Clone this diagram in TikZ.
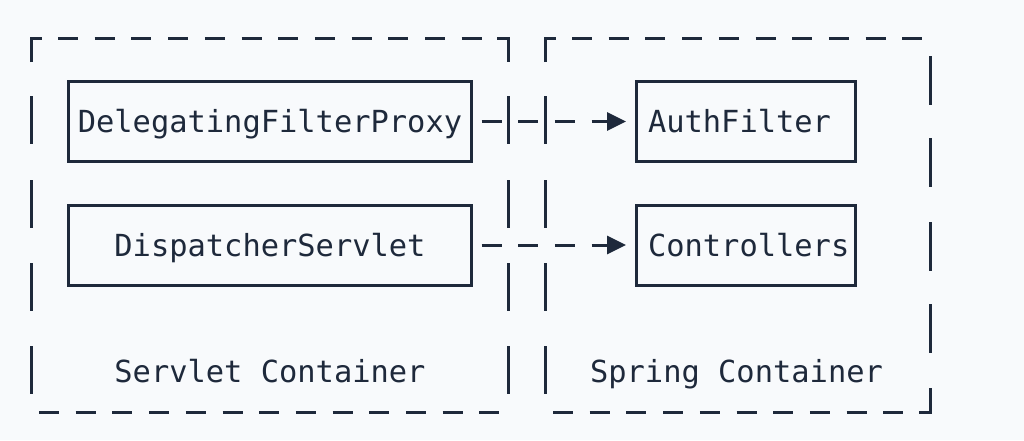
\documentclass[tikz,border=0pt]{standalone}
\usepackage{fontspec}
\setmonofont{DejaVu Sans Mono}
\usetikzlibrary{arrows.meta}
\definecolor{ink}{HTML}{1E293B}
\definecolor{bg}{HTML}{F8FAFC}
\tikzset{
  dl/.style={draw=ink, line width=3pt},
  box/.style={draw=ink, line width=3pt, minimum height=80pt, inner ysep=0pt,
    font=\ttfamily\fontsize{30.4}{36}\selectfont, text=ink,
    text height=22.2pt, text depth=0pt},
  leftbox/.style={box, text width=196pt, inner xsep=11.5pt, align=left},
  lbl/.style={font=\ttfamily\fontsize{30.4}{36}\selectfont, text=ink,
    text height=22.2pt, text depth=0pt, inner sep=0pt},
  conn/.style={draw=ink, line width=3pt, dash pattern=on 20pt off 16.7pt,
    dash phase=28.2pt, shorten >=9pt, -{Triangle[length=19pt,width=18pt]}}
}
\begin{document}
\begin{tikzpicture}[x=1pt,y=-1pt]
\path[fill=bg, use as bounding box] (0,0) rectangle (1024,440);

% Servlet container (dashed outline)
\draw[dl] (31,62) -- (31,38) -- (42,38);
\foreach \k in {0,...,11} \draw[dl] ({58+36.7*\k},38) -- ++(20,0);
\draw[dl] (497,38) -- (508,38) -- (508,62);
\foreach \yy in {96,180,263,346} {
  \draw[dl] (31,\yy) -- ++(0,48);
  \draw[dl] (508,\yy) -- ++(0,48);
}
\foreach \k in {0,...,12} \draw[dl] ({39+36.7*\k},412) -- ++(20,0);

% Spring container (dashed outline)
\draw[dl] (545,62) -- (545,38) -- (556,38);
\foreach \k in {0,...,9} \draw[dl] ({572+36.7*\k},38) -- ++(20,0);
\foreach \yy in {96,180,263,346} \draw[dl] (545,\yy) -- ++(0,48);
\foreach \yy in {56,138,222,304} \draw[dl] (930,\yy) -- ++(0,49);
\draw[dl] (919,412) -- (930,412) -- (930,388);
\foreach \k in {0,...,9} \draw[dl] ({553+36.7*\k},412) -- ++(20,0);

% Boxes
\node[box, minimum width=403pt] (dfp) at (270,121.5) {DelegatingFilterProxy};
\node[box, minimum width=403pt] (ds) at (270,245) {DispatcherServlet};
\node[leftbox] (af) at (746,121.5) {AuthFilter};
\node[leftbox] (ctl) at (746,245) {Controllers};

% Labels
\node[lbl] (lservlet) at (270,371.5) {Servlet Container};
\node[lbl] (lspring) at (736.5,371.5) {Spring Container};

% Connectors
\draw[conn] (dfp.east) -- (af.west);
\draw[conn] (ds.east) -- (ctl.west);
\end{tikzpicture}
\end{document}
